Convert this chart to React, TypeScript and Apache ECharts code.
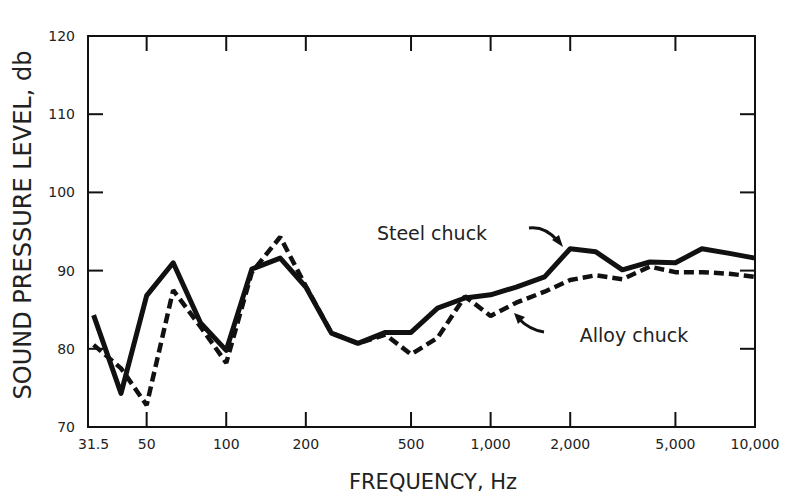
import React, { useEffect, useRef } from "react";
import * as echarts from "echarts";

const freqs = [31.5, 40, 50, 63, 80, 100, 125, 160, 200, 250, 315, 400, 500, 630, 800, 1000, 1250, 1600, 2000, 2500, 3150, 4000, 5000, 6300, 8000, 10000];
const steel = [84.3, 74.3, 86.8, 91.0, 83.3, 79.8, 90.2, 91.6, 87.9, 82.0, 80.7, 82.1, 82.1, 85.2, 86.5, 86.9, 87.9, 89.2, 92.8, 92.4, 90.1, 91.1, 91.0, 92.8, 92.2, 91.6];
const alloy = [80.5, 77.5, 72.8, 87.5, 82.8, 78.2, 89.8, 94.3, 88.0, 82.0, 80.7, 81.8, 79.3, 81.4, 86.7, 84.2, 85.9, 87.3, 88.8, 89.4, 88.9, 90.5, 89.8, 89.8, 89.6, 89.2];
const xLabelValues = [31.5, 50, 100, 200, 500, 1000, 2000, 5000, 10000];
const xTickValues = [50, 100, 200, 500, 1000, 2000, 5000];
const yTicks = [80, 90, 100, 110];

const X_MIN = 30;
const X_MAX = 10000;
const Y_MIN = 70;
const Y_MAX = 120;

const FONT = "DejaVu Sans";
const INK = "#111";
const TICK = 15;

export default function App() {
  const ref = useRef<HTMLDivElement>(null);
  useEffect(() => {
    if (!ref.current) return;
    const chart = echarts.init(ref.current, null, { renderer: "svg" });
    const fmt = (v: number) => (v >= 1000 ? v.toLocaleString("en-US") : String(v));
    const axisLine = { show: true, lineStyle: { color: INK, width: 2 } };
    const tickStyle = { stroke: INK, lineWidth: 2 };
    chart.setOption({
      animation: false,
      backgroundColor: "#fff",
      grid: { left: 88, right: 30, top: 36, bottom: 66 },
      xAxis: [
        {
          type: "log",
          logBase: 10,
          min: X_MIN,
          max: X_MAX,
          position: "bottom",
          axisLine,
          splitLine: { show: false },
          minorTick: { show: false },
          axisTick: { show: false },
          axisLabel: {
            show: true,
            customValues: xLabelValues,
            formatter: (v: number) => fmt(v),
            fontFamily: FONT,
            fontSize: 14,
            color: "#222",
            margin: 10,
          },
        },
        {
          type: "log",
          logBase: 10,
          min: X_MIN,
          max: X_MAX,
          position: "top",
          axisLine,
          splitLine: { show: false },
          axisTick: { show: false },
          axisLabel: { show: false },
        },
      ],
      yAxis: [
        {
          type: "value",
          min: Y_MIN,
          max: Y_MAX,
          interval: 10,
          position: "left",
          axisLine,
          splitLine: { show: false },
          axisTick: { show: false },
          axisLabel: {
            fontFamily: FONT,
            fontSize: 14,
            color: "#222",
            margin: 13,
          },
        },
        {
          type: "value",
          min: Y_MIN,
          max: Y_MAX,
          interval: 10,
          position: "right",
          axisLine,
          splitLine: { show: false },
          axisTick: { show: false },
          axisLabel: { show: false },
        },
      ],
      series: [
        {
          name: "x ticks",
          type: "custom",
          silent: true,
          clip: false,
          data: xTickValues.map((f) => [f, Y_MIN]),
          renderItem: (params: any, api: any) => {
            const f = api.value(0);
            const b = api.coord([f, Y_MIN]);
            const t = api.coord([f, Y_MAX]);
            return {
              type: "group",
              children: [
                { type: "line", shape: { x1: b[0], y1: b[1], x2: b[0], y2: b[1] - TICK }, style: tickStyle },
                { type: "line", shape: { x1: t[0], y1: t[1], x2: t[0], y2: t[1] + TICK }, style: tickStyle },
              ],
            };
          },
          z: 1,
        },
        {
          name: "y ticks",
          type: "custom",
          silent: true,
          clip: false,
          data: yTicks.map((v) => [X_MIN, v]),
          renderItem: (params: any, api: any) => {
            const v = api.value(1);
            const l = api.coord([X_MIN, v]);
            const r = api.coord([X_MAX, v]);
            return {
              type: "group",
              children: [
                { type: "line", shape: { x1: l[0], y1: l[1], x2: l[0] + TICK, y2: l[1] }, style: tickStyle },
                { type: "line", shape: { x1: r[0], y1: r[1], x2: r[0] - TICK, y2: r[1] }, style: tickStyle },
              ],
            };
          },
          z: 1,
        },
        {
          name: "Steel chuck",
          type: "line",
          data: freqs.map((f, i) => [f, steel[i]]),
          showSymbol: false,
          symbol: "none",
          lineStyle: { color: INK, width: 5, join: "round" },
          z: 3,
        },
        {
          name: "Alloy chuck",
          type: "line",
          data: freqs.map((f, i) => [f, alloy[i]]),
          showSymbol: false,
          symbol: "none",
          lineStyle: { color: INK, width: 4.5, type: [10, 5] },
          z: 2,
        },
      ],
      graphic: [
        {
          type: "text",
          x: 23,
          y: 225,
          rotation: Math.PI / 2,
          style: {
            text: "SOUND PRESSURE LEVEL, db",
            font: `24px "${FONT}"`,
            fill: "#222",
            align: "center",
            verticalAlign: "middle",
          },
        },
        {
          type: "text",
          x: 433,
          y: 482,
          style: {
            text: "FREQUENCY, Hz",
            font: `21px "${FONT}"`,
            fill: "#222",
            align: "center",
            verticalAlign: "middle",
          },
        },
        {
          type: "text",
          x: 432,
          y: 233,
          style: {
            text: "Steel chuck",
            font: `19px "${FONT}"`,
            fill: "#222",
            align: "center",
            verticalAlign: "middle",
          },
        },
        {
          type: "text",
          x: 634,
          y: 335,
          style: {
            text: "Alloy chuck",
            font: `19px "${FONT}"`,
            fill: "#222",
            align: "center",
            verticalAlign: "middle",
          },
        },
        {
          type: "bezierCurve",
          shape: { x1: 529, y1: 228, cpx1: 545, cpy1: 226, x2: 558, y2: 241 },
          style: { stroke: INK, lineWidth: 3, fill: "none" },
        },
        {
          type: "polygon",
          shape: { points: [[563, 247], [552, 240], [559, 235]] },
          style: { fill: INK },
        },
        {
          type: "bezierCurve",
          shape: { x1: 544, y1: 332, cpx1: 530, cpy1: 330, x2: 519, y2: 319 },
          style: { stroke: INK, lineWidth: 3, fill: "none" },
        },
        {
          type: "polygon",
          shape: { points: [[514, 313], [525, 317], [518, 324]] },
          style: { fill: INK },
        },
      ],
    });
    return () => chart.dispose();
  }, []);
  return <div ref={ref} style={{ width: 785, height: 493, position: "absolute", left: 0, top: 0 }} />;
}
